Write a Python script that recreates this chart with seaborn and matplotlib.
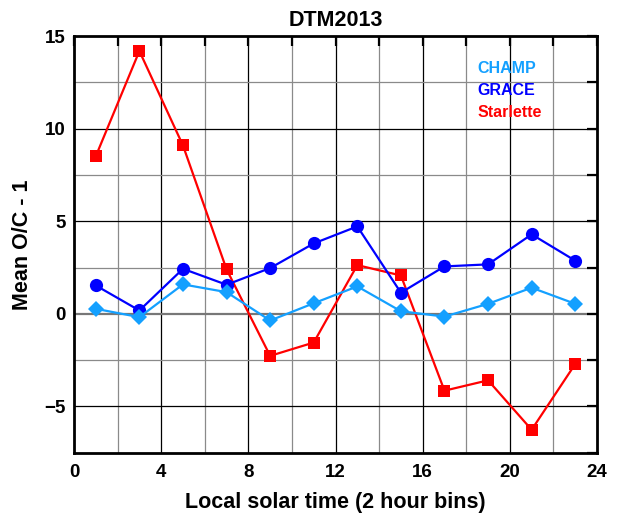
import numpy as np
import pandas as pd
import matplotlib
matplotlib.use("Agg")
import matplotlib.pyplot as plt
from matplotlib.ticker import MultipleLocator
import seaborn as sns

# Local solar time bin centres (hours)
hours = [1, 3, 5, 7, 9, 11, 13, 15, 17, 19, 21, 23]

champ = [0.27, -0.18, 1.59, 1.17, -0.36, 0.57, 1.48, 0.14, -0.15, 0.54, 1.41, 0.54]
grace = [1.53, 0.18, 2.43, 1.57, 2.47, 3.80, 4.72, 1.14, 2.56, 2.67, 4.29, 2.87]
starlette = [8.51, 14.19, 9.09, 2.40, -2.27, -1.55, 2.63, 2.07, -4.15, -3.59, -6.26, -2.71]

series_names = ["CHAMP", "GRACE", "Starlette"]
colors = {"CHAMP": "#14a0ff", "GRACE": "#0000ff", "Starlette": "#ff0000"}
markers = {"CHAMP": "D", "GRACE": "o", "Starlette": "s"}
marker_sizes = {"CHAMP": 8.5, "GRACE": 9.5, "Starlette": 8.5}

df = pd.concat([
    pd.DataFrame({"hour": hours, "value": champ, "satellite": "CHAMP"}),
    pd.DataFrame({"hour": hours, "value": grace, "satellite": "GRACE"}),
    pd.DataFrame({"hour": hours, "value": starlette, "satellite": "Starlette"}),
])

sns.set_style("white")
plt.rcParams["font.family"] = ["Liberation Sans", "DejaVu Sans"]
plt.rcParams["font.weight"] = "bold"
plt.rcParams["text.color"] = "black"
plt.rcParams["axes.labelcolor"] = "black"
plt.rcParams["xtick.color"] = "black"
plt.rcParams["ytick.color"] = "black"

fig = plt.figure(figsize=(6.23, 5.19), dpi=100)
ax = fig.add_axes([0.1188, 0.1277, 0.8395, 0.8029])

# Grid: grey at minor steps, black at major steps
for x in np.arange(2, 24, 4):
    ax.axvline(x, color="#8a8a8a", lw=0.9, zorder=0)
for x in np.arange(4, 24, 4):
    ax.axvline(x, color="black", lw=0.9, zorder=0)
for y in [-2.5, 2.5, 7.5, 12.5]:
    ax.axhline(y, color="#8a8a8a", lw=0.9, zorder=0)
for y in [-5, 5, 10]:
    ax.axhline(y, color="black", lw=0.9, zorder=0)
ax.axhline(0, color="#777777", lw=1.6, zorder=0)

# Draw order: Starlette, GRACE, CHAMP
for name in ["Starlette", "GRACE", "CHAMP"]:
    sub = df[df["satellite"] == name]
    sns.lineplot(data=sub, x="hour", y="value", color=colors[name],
                 marker=markers[name], markersize=marker_sizes[name],
                 markeredgewidth=0, lw=1.6, ax=ax, legend=False, zorder=3)

ax.set_xlim(0, 24)
ax.set_ylim(-7.5, 15)
ax.xaxis.set_major_locator(MultipleLocator(4))
ax.xaxis.set_minor_locator(MultipleLocator(2))
ax.yaxis.set_major_locator(MultipleLocator(5))
ax.yaxis.set_minor_locator(MultipleLocator(2.5))
ax.set_yticks([-5, 0, 5, 10, 15])
ax.set_yticklabels(["\u22125", "0", "5", "10", "15"])
ax.tick_params(which="both", direction="in", top=True, right=True,
               width=1.6, labelsize=13.5, colors="black")
ax.tick_params(axis="x", which="both", pad=8)
ax.tick_params(axis="y", which="both", pad=6)
ax.tick_params(which="major", length=7)
ax.tick_params(which="minor", length=7)
for lbl in ax.get_xticklabels() + ax.get_yticklabels():
    lbl.set_fontweight("bold")
for sp in ax.spines.values():
    sp.set_linewidth(2)
    sp.set_color("black")

ax.set_xlabel("Local solar time (2 hour bins)", fontsize=15.5, fontweight="bold",
              labelpad=8, color="black")
ax.set_ylabel("Mean O/C - 1", fontsize=15.5, fontweight="bold", labelpad=8,
              color="black")
ax.set_title("DTM2013", fontsize=15.5, fontweight="bold", pad=7, color="black")

# Coloured text legend
for i, name in enumerate(series_names):
    ax.text(0.772, 0.922 - i * 0.053, name, transform=ax.transAxes,
            color=colors[name], fontsize=11.5, fontweight="bold",
            ha="left", va="center")

fig.savefig("out.png", dpi=100)
